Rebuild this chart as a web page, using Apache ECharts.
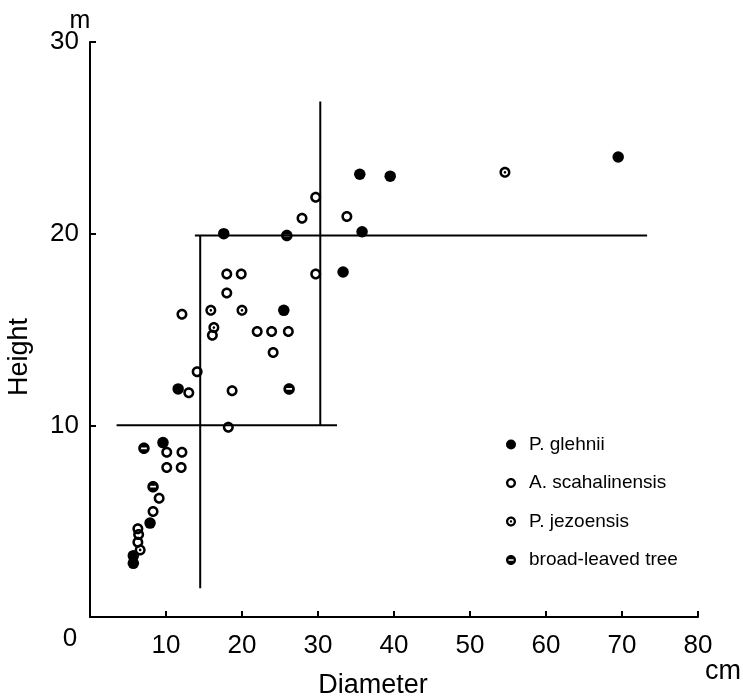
<!DOCTYPE html>
<html>
<head>
<meta charset="utf-8">
<script src="https://cdn.jsdelivr.net/npm/echarts@6/dist/echarts.min.js"></script>
<style>
  html, body { margin: 0; padding: 0; background: #fff; }
  #chart { width: 743px; height: 697px; }
</style>
</head>
<body>
<div id="chart"></div>
<script>
// [diameter (cm), height (m)]
const glehnii = [
  [17.6, 20.0], [33.3, 18.0], [25.5, 16.0], [11.6, 11.9], [35.5, 23.1],
  [39.5, 23.0], [69.5, 24.0], [35.8, 20.1], [9.6, 9.1], [7.9, 4.9],
  [5.7, 3.2], [5.7, 2.8]
];
const sachalinensis = [
  [10.1, 8.6], [12.1, 8.6], [10.1, 7.8], [12.0, 7.8], [9.1, 6.2],
  [8.3, 5.5], [6.3, 4.6], [6.4, 4.3], [6.3, 3.9], [18.0, 17.9],
  [19.9, 17.9], [18.0, 16.9], [29.7, 17.9], [12.1, 15.8], [16.1, 14.7],
  [22.0, 14.9], [23.9, 14.9], [26.1, 14.9], [24.1, 13.8], [14.1, 12.8],
  [13.0, 11.7], [18.7, 11.8], [18.2, 9.9], [29.7, 21.9], [27.9, 20.8],
  [33.8, 20.9]
];
const jezoensis = [
  [15.9, 16.0], [20.0, 16.0], [54.6, 23.2], [6.6, 3.5], [16.3, 15.1]
];
const broadLeaved = [
  [7.1, 8.8], [8.3, 6.8], [26.2, 11.9], [25.9, 19.9]
];
// boundary lines drawn on the figure
const boundaries = [
  [[3.5, 10], [32.5, 10]],
  [[14.5, 1.5], [14.5, 19.9]],
  [[13.8, 19.9], [73.3, 19.9]],
  [[30.3, 10], [30.3, 26.9]]
];
const xTicks = [0, 10, 20, 30, 40, 50, 60, 70, 80];
const yTicks = [0, 10, 20, 30];
const legendNames = ['P. glehnii', 'A. scahalinensis', 'P. jezoensis', 'broad-leaved tree'];

// circle path helper, cw/ccw so inner parts become holes
function circ(r, ccw) {
  const k = 0.5523 * r;
  if (!ccw) {
    return `M0,${-r}C${k},${-r} ${r},${-k} ${r},0C${r},${k} ${k},${r} 0,${r}C${-k},${r} ${-r},${k} ${-r},0C${-r},${-k} ${-k},${-r} 0,${-r}Z`;
  }
  return `M0,${-r}C${-k},${-r} ${-r},${-k} ${-r},0C${-r},${k} ${-k},${r} 0,${r}C${k},${r} ${r},${k} ${r},0C${r},${-k} ${k},${-r} 0,${-r}Z`;
}
const ringSym = 'path://' + circ(10) + ' ' + circ(5.4, true);
const dotRingSym = 'path://' + circ(10) + ' ' + circ(5.6, true) + ' ' + circ(2.4);
const barSym = 'path://' + circ(10) + ' M-5,-1.6L-5,1.6L5,1.6L5,-1.6Z';
const font = "'Liberation Sans', Arial, sans-serif";
const tickFont = "'Liberation Sans Narrow', 'Liberation Sans', Arial, sans-serif";

const chart = echarts.init(document.getElementById('chart'));

function scatter(name, data, symbol, size) {
  return {
    name: name,
    type: 'scatter',
    data: data,
    symbol: symbol,
    symbolSize: size,
    symbolKeepAspect: true,
    itemStyle: { color: '#000', opacity: 1 },
    z: 5
  };
}

const series = [
  scatter(legendNames[0], glehnii, 'circle', 11.5),
  scatter(legendNames[1], sachalinensis, ringSym, 11),
  scatter(legendNames[2], jezoensis, dotRingSym, 11),
  scatter(legendNames[3], broadLeaved, barSym, 11.5)
];
boundaries.forEach(function (seg) {
  series.push({
    type: 'line',
    data: seg,
    symbol: 'none',
    silent: true,
    lineStyle: { color: '#000', width: 2 },
    z: 3
  });
});

chart.setOption({
  animation: false,
  backgroundColor: '#fff',
  grid: { left: 90, right: 45, top: 42, bottom: 80 },
  legend: {
    data: legendNames,
    orient: 'vertical',
    left: 501,
    top: 429,
    itemWidth: 10,
    itemHeight: 10,
    itemGap: 17.5,
    textStyle: { fontFamily: font, fontSize: 19, color: '#000', lineHeight: 21, padding: [0, 0, 0, 8] }
  },
  xAxis: {
    type: 'value',
    min: xTicks[0],
    max: xTicks[xTicks.length - 1],
    interval: 10,
    splitLine: { show: false },
    axisLine: { lineStyle: { color: '#000', width: 2 } },
    axisTick: { inside: true, length: 6, lineStyle: { color: '#000', width: 2 } },
    axisLabel: {
      margin: 16, fontFamily: tickFont, fontSize: 26, color: '#000',
      formatter: function (v) { return v === 0 ? '' : String(v); }
    }
  },
  yAxis: {
    type: 'value',
    min: yTicks[0],
    max: yTicks[yTicks.length - 1],
    interval: 10,
    splitLine: { show: false },
    axisLine: { lineStyle: { color: '#000', width: 2 } },
    axisTick: { inside: true, length: 6, lineStyle: { color: '#000', width: 2 } },
    axisLabel: {
      margin: 11, fontFamily: tickFont, fontSize: 26, color: '#000',
      formatter: function (v) { return v === 0 ? '' : String(v); }
    }
  },
  graphic: [
    { type: 'text', x: 70, y: 639, style: { text: '0', font: '26px ' + tickFont, fill: '#000', align: 'center', verticalAlign: 'middle' } },
    { type: 'text', x: 80, y: 21, style: { text: 'm', font: '25px ' + font, fill: '#000', align: 'center', verticalAlign: 'middle' } },
    { type: 'text', x: 723, y: 672, style: { text: 'cm', font: '27px ' + font, fill: '#000', align: 'center', verticalAlign: 'middle' } },
    { type: 'text', x: 373, y: 686, style: { text: 'Diameter', font: '27px ' + font, fill: '#000', align: 'center', verticalAlign: 'middle' } },
    { type: 'text', x: 20, y: 357, rotation: Math.PI / 2, style: { text: 'Height', font: '27px ' + font, fill: '#000', align: 'center', verticalAlign: 'middle' } }
  ],
  series: series
});
</script>
</body>
</html>
